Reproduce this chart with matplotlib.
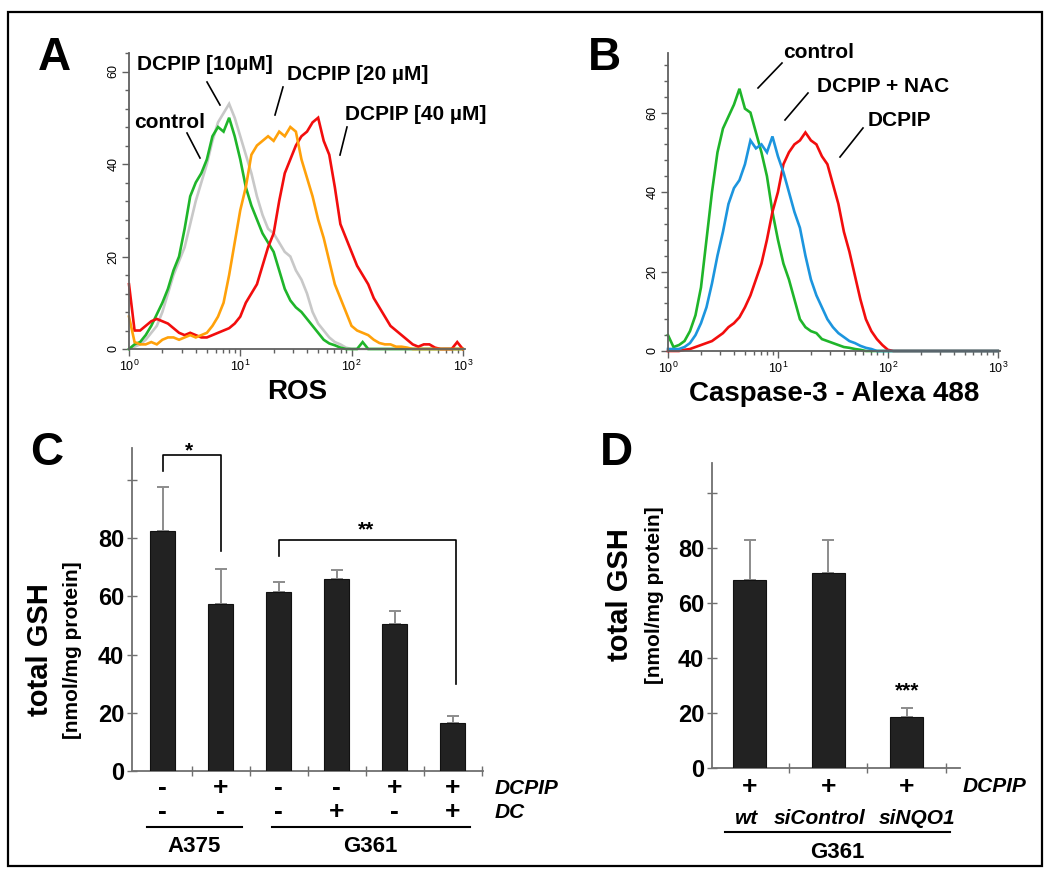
import numpy as np
import matplotlib
matplotlib.use('Agg')
import matplotlib.pyplot as plt
from matplotlib.patches import Rectangle
from matplotlib.lines import Line2D
from matplotlib.ticker import LogLocator, MultipleLocator, FixedLocator, NullFormatter, LogFormatterMathtext
import matplotlib.transforms as mtransforms

plt.rcParams['font.family'] = ['Liberation Sans', 'DejaVu Sans']
plt.rcParams['mathtext.fontset'] = 'custom'
plt.rcParams['mathtext.rm'] = 'Liberation Sans'
plt.rcParams['mathtext.it'] = 'Liberation Sans:italic'
plt.rcParams['mathtext.bf'] = 'Liberation Sans:bold'

# ---------------- data ----------------
# log10 of fluorescence channel (bin centres)
LOG_CHANNEL = [0.00, 0.05, 0.10, 0.15, 0.20, 0.25, 0.30, 0.35, 0.40, 0.45,
               0.50, 0.55, 0.60, 0.65, 0.70, 0.75, 0.80, 0.85, 0.90, 0.95,
               1.00, 1.05, 1.10, 1.15, 1.20, 1.25, 1.30, 1.35, 1.40, 1.45,
               1.50, 1.55, 1.60, 1.65, 1.70, 1.75, 1.80, 1.85, 1.90, 1.95,
               2.00, 2.05, 2.10, 2.15, 2.20, 2.25, 2.30, 2.35, 2.40, 2.45,
               2.50, 2.55, 2.60, 2.65, 2.70, 2.75, 2.80, 2.85, 2.90, 2.95,
               3.00]

# Panel A: ROS histograms (counts)
ros_control = [0, 1, 1.5, 3, 5, 7.5, 10, 13, 17, 20,
               26, 33, 36, 38, 41, 46, 48, 47, 50, 46,
               41, 35, 31, 28, 25, 23, 21, 17, 13, 10.5,
               9, 8, 6.5, 5, 3.5, 2, 1.2, 0.8, 0.3, 0,
               0, 0, 1.5, 0, 0, 0, 0, 0, 0, 0,
               0, 0, 0, 0, 0, 0, 0, 0, 0, 0,
               0]
ros_dcpip10 = [0, 0.5, 1, 2, 3.5, 5, 8, 12, 16, 19,
               22, 27, 32, 36, 40, 45, 49, 51, 53, 50,
               46, 42, 38, 33, 29, 26, 25, 23, 21, 20,
               17, 15, 12, 8, 5.5, 4, 2.5, 1.5, 1, 0.3,
               0, 0, 0, 0, 0, 0, 0, 0, 0, 0,
               0, 0, 0, 0, 0, 0, 0, 0, 0, 0,
               0]
ros_dcpip20 = [7, 1.5, 1, 1, 1.5, 1, 2, 2.5, 2.5, 2,
               2.5, 3, 2.5, 3, 3.5, 5, 7, 10, 16, 23,
               30, 35, 42, 44, 45, 46, 45, 47, 46, 48,
               47, 41, 37, 33, 28, 24, 19, 14, 11, 8,
               5, 4, 3.5, 3, 2, 1.3, 1, 1, 0.5, 0.5,
               0.3, 0, 0, 0, 0, 0, 0, 0, 0, 0,
               0]
ros_dcpip40 = [14, 4, 4, 5, 6, 6.5, 6, 5.5, 4.5, 3.5,
               3, 3.5, 3, 2.5, 2.5, 3, 3.5, 4, 4.5, 5.5,
               7, 10, 12, 14, 18, 22, 25, 32, 38, 41,
               44, 46, 47, 49, 50, 45, 42, 35, 27, 24,
               21, 18, 16, 14, 11, 9, 7, 5, 4, 3,
               2, 1, 0.5, 1, 1, 0.3, 0, 0, 0, 1.5,
               0]

# Panel B: Caspase-3 histograms (counts)
casp_control = [4, 1, 1.5, 2.5, 5, 9, 16, 28, 40, 50,
                56, 59, 62, 66, 61, 60, 55, 50, 44, 35,
                28, 22, 18, 13, 8, 6, 5, 4.5, 3, 2.5,
                2, 1.5, 1, 0.8, 0.5, 0.3, 0, 0, 0, 0,
                0, 0, 0, 0, 0, 0, 0, 0, 0, 0,
                0, 0, 0, 0, 0, 0, 0, 0, 0, 0,
                0]
casp_dcpip_nac = [0.5, 0.5, 0.5, 1, 2, 4, 7, 11, 17, 24,
                  30, 37, 41, 43, 47, 53, 51, 52, 50, 54,
                  49, 45, 40, 35, 31, 24, 18, 14, 11, 8,
                  6, 4.5, 3.5, 2.5, 2, 1.3, 0.8, 0.5, 0, 0,
                  0, 0, 0, 0, 0, 0, 0, 0, 0, 0,
                  0, 0, 0, 0, 0, 0, 0, 0, 0, 0,
                  0]
casp_dcpip = [0, 0, 0, 0.3, 0.5, 1, 1.5, 2, 2.5, 3.5,
              4.5, 6, 7, 8.5, 11, 14, 18, 22, 28, 35,
              40, 47, 50, 52, 53, 55, 53, 52, 49, 47,
              42, 37, 30, 25, 19, 13, 8, 5, 3, 1.5,
              0.3, 0, 0, 0, 0, 0, 0, 0, 0, 0,
              0, 0, 0, 0, 0, 0, 0, 0, 0, 0,
              0]

# Panel C: total GSH
c_dcpip = ['-', '+', '-', '-', '+', '+']
c_dc = ['-', '-', '-', '+', '-', '+']
c_gsh = [82.5, 57.5, 61.5, 66, 50.5, 16.5]
c_err = [15, 12, 3.5, 3, 4.5, 2.5]

# Panel D: total GSH
d_dcpip = ['+', '+', '+']
d_groups = ['wt', 'siControl', 'siNQO1']
d_gsh = [68.5, 71, 18.5]
d_err = [14.5, 12, 3.5]

# ---------------- layout helpers ----------------
W, H = 1050, 873
def fx(p):
    return p / W
def fy(p):
    return 1 - p / H

fig = plt.figure(figsize=(10.5, 8.73), dpi=100)

fig.add_artist(Rectangle((fx(8), fy(866)), fx(1042) - fx(8), fy(12) - fy(866),
                         transform=fig.transFigure, fill=False, ec='black', lw=1.6))

SPINE = '#606060'
GREEN = '#1fb52a'
GREY = '#c8c8c8'
ORANGE = '#ffa10a'
RED = '#f20d0d'
BLUE = '#1c95de'


def hist_axes(rect, ymax, ymajor):
    ax = fig.add_axes(rect)
    ax.set_xscale('log')
    ax.set_xlim(1, 10 ** 3.02)
    ax.set_ylim(0, ymax)
    for s in ['top', 'right']:
        ax.spines[s].set_visible(False)
    for s in ['left', 'bottom']:
        ax.spines[s].set_color(SPINE)
        ax.spines[s].set_linewidth(1.3)
    ax.xaxis.set_major_locator(LogLocator(base=10, numticks=10))
    ax.xaxis.set_minor_locator(LogLocator(base=10, subs=np.arange(2, 10), numticks=20))
    ax.xaxis.set_minor_formatter(NullFormatter())
    ax.xaxis.set_major_formatter(LogFormatterMathtext())
    ax.yaxis.set_major_locator(MultipleLocator(ymajor))
    ax.yaxis.set_minor_locator(MultipleLocator(4))
    ax.tick_params(which='both', direction='out', color=SPINE, width=1.0)
    ax.tick_params(which='major', length=5, labelsize=9, pad=2)
    ax.tick_params(which='minor', length=3)
    ax.tick_params(axis='y', labelrotation=90)
    for lab in ax.get_yticklabels():
        lab.set_va('center')
    return ax


xs = 10 ** np.array(LOG_CHANNEL)

# ---------------- Panel A ----------------
axA = hist_axes([fx(129), fy(349), fx(465) - fx(129), fy(53) - fy(349)], 64, 20)
for ys, c in [(ros_dcpip10, GREY), (ros_control, GREEN), (ros_dcpip40, RED), (ros_dcpip20, ORANGE)]:
    axA.plot(xs, ys, color=c, lw=1.9, clip_on=False, solid_joinstyle='miter')
axA.set_xlabel('ROS', fontsize=20, fontweight='bold', labelpad=4)

# ---------------- Panel B ----------------
axB = hist_axes([fx(668), fy(351), fx(1000) - fx(668), fy(53) - fy(351)], 75, 20)
for ys, c in [(casp_control, GREEN), (casp_dcpip, RED), (casp_dcpip_nac, BLUE)]:
    axB.plot(xs, ys, color=c, lw=1.9, clip_on=False, solid_joinstyle='miter')
axB.set_xlabel('Caspase-3 - Alexa 488', fontsize=20, fontweight='bold', labelpad=4)


def label(px, py, s, size=15, ha='left', va='center', **kw):
    fig.text(fx(px), fy(py), s, fontsize=size, fontweight='bold', ha=ha, va=va, **kw)


def pointer(x1, y1, x2, y2):
    fig.add_artist(Line2D([fx(x1), fx(x2)], [fy(y1), fy(y2)], transform=fig.transFigure,
                          color='black', lw=1.2))

# annotations A
label(137, 64, 'DCPIP [10µM]')
pointer(207, 82, 220, 105)
label(287, 75, 'DCPIP [20 µM]')
pointer(283, 87, 275, 115)
label(134, 122, 'control')
pointer(187, 133, 200, 158)
label(345, 115, 'DCPIP [40 µM]')
pointer(347, 127, 340, 155)
# annotations B
label(783, 52, 'control')
pointer(782, 63, 758, 88)
label(817, 87, 'DCPIP + NAC')
pointer(808, 93, 785, 120)
label(868, 121, 'DCPIP')
pointer(863, 128, 840, 157)

# panel letters
label(38, 58, 'A', size=33)
label(588, 58, 'B', size=33)
label(30, 453, 'C', size=33)
label(600, 453, 'D', size=33)

# ---------------- Bar panels ----------------
def bar_axes(rect, xlim, n):
    ax = fig.add_axes(rect)
    ax.set_xlim(*xlim)
    ax.set_ylim(0, 111)
    for s in ['top', 'right']:
        ax.spines[s].set_visible(False)
    for s in ['left', 'bottom']:
        ax.spines[s].set_color('#707070')
        ax.spines[s].set_linewidth(1.3)
    ax.xaxis.set_major_locator(FixedLocator(np.arange(n) + 0.5))
    ax.set_xticklabels([])
    ax.yaxis.set_major_locator(FixedLocator([0, 20, 40, 60, 80, 100]))
    ax.set_yticklabels(['0', '20', '40', '60', '80', ''])
    ax.tick_params(direction='inout', length=7, color='#707070', width=1.0)
    ax.tick_params(axis='y', labelsize=17, pad=2)
    for lab in ax.get_yticklabels():
        lab.set_fontweight('bold')
    return ax

# Panel C
axC = bar_axes([fx(132), fy(771), fx(483) - fx(132), fy(448) - fy(771)], (-0.53, 5.52), 6)
posC = np.arange(len(c_gsh))
axC.bar(posC, c_gsh, width=0.43, color='#222222', edgecolor='#111111', lw=0.8, zorder=3)
axC.errorbar(posC, c_gsh, yerr=[np.zeros(len(c_err)), c_err], fmt='none', ecolor='#8c8c8c',
             elinewidth=1.4, capsize=4, capthick=1.4, zorder=2)
# significance brackets
axC.plot([0, 0, 1, 1], [103, 108.5, 108.5, 75.5], color='black', lw=1.2, clip_on=False)
axC.text(0.45, 110, '*', ha='center', va='center', fontsize=15, fontweight='bold')
axC.plot([2, 2, 5.05, 5.05], [74, 79.5, 79.5, 30], color='black', lw=1.2, clip_on=False)
axC.text(3.5, 83, '**', ha='center', va='center', fontsize=15, fontweight='bold')

trC = mtransforms.blended_transform_factory(axC.transData, axC.transAxes)
def yC(py):
    return -(py - 771) / 323.0
for i in range(len(c_gsh)):
    axC.text(posC[i], yC(788), c_dcpip[i], transform=trC, ha='center', va='center',
             fontsize=19, fontweight='bold', clip_on=False)
    axC.text(posC[i], yC(812), c_dc[i], transform=trC, ha='center', va='center',
             fontsize=19, fontweight='bold', clip_on=False)
axC.text(5.72, yC(788), 'DCPIP', transform=trC, ha='left', va='center', fontsize=15,
         fontweight='bold', style='italic')
axC.text(5.72, yC(812), 'DC', transform=trC, ha='left', va='center', fontsize=15,
         fontweight='bold', style='italic')
axC.plot([-0.28, 1.36], [yC(827)] * 2, transform=trC, color='black', lw=1.5, clip_on=False)
axC.plot([1.88, 5.29], [yC(827)] * 2, transform=trC, color='black', lw=1.5, clip_on=False)
axC.text(0.54, yC(846), 'A375', transform=trC, ha='center', va='center', fontsize=16, fontweight='bold')
axC.text(3.58, yC(846), 'G361', transform=trC, ha='center', va='center', fontsize=16, fontweight='bold')
label(40, 650, 'total GSH', size=21, ha='center', rotation=90)
label(73, 650, '[nmol/mg protein]', size=15, ha='center', rotation=90)

# Panel D
axD = bar_axes([fx(712), fy(768), fx(960) - fx(712), fy(463) - fy(768)], (-0.48, 2.68), 3)
posD = np.arange(len(d_gsh))
axD.bar(posD, d_gsh, width=0.42, color='#222222', edgecolor='#111111', lw=0.8, zorder=3)
axD.errorbar(posD, d_gsh, yerr=[np.zeros(len(d_err)), d_err], fmt='none', ecolor='#8c8c8c',
             elinewidth=1.4, capsize=4, capthick=1.4, zorder=2)
axD.text(posD[2], 28, '***', ha='center', va='center', fontsize=15, fontweight='bold')
trD = mtransforms.blended_transform_factory(axD.transData, axD.transAxes)
def yD(py):
    return -(py - 768) / 305.0
for i in range(len(d_gsh)):
    axD.text(posD[i], yD(787), d_dcpip[i], transform=trD, ha='center', va='center',
             fontsize=19, fontweight='bold', clip_on=False)
axD.text(2.71, yD(787), 'DCPIP', transform=trD, ha='left', va='center', fontsize=15,
         fontweight='bold', style='italic')
for xg, g in zip([-0.04, 0.89, 2.13], d_groups):
    axD.text(xg, yD(818), g, transform=trD, ha='center', va='center', fontsize=15,
             fontweight='bold', style='italic')
axD.plot([-0.32, 2.55], [yD(832)] * 2, transform=trD, color='black', lw=1.5, clip_on=False)
axD.text(1.12, yD(853), 'G361', transform=trD, ha='center', va='center', fontsize=16, fontweight='bold')
label(620, 595, 'total GSH', size=21, ha='center', rotation=90)
label(654, 595, '[nmol/mg protein]', size=15, ha='center', rotation=90)

fig.savefig('out.png', dpi=100)
